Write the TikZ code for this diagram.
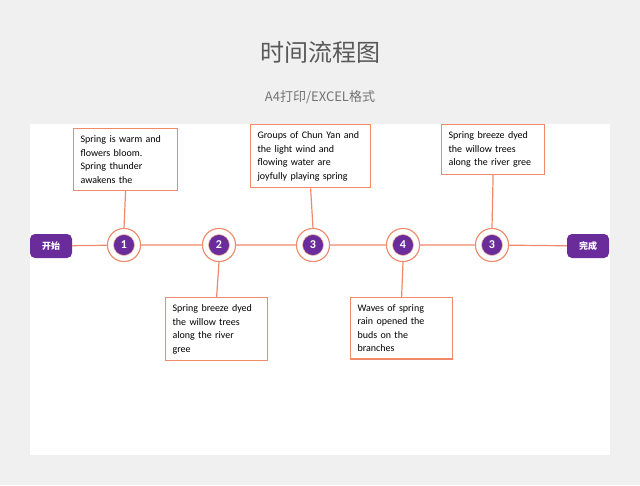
\documentclass[tikz,border=0pt]{standalone}
\usepackage{fontspec}
\setmainfont{Carlito}
\newfontfamily\cjk{Noto Sans CJK SC}
\definecolor{sal}{HTML}{F08A6A}
\definecolor{pur}{HTML}{6A2C9A}
\definecolor{bgg}{HTML}{F0F0F0}
\begin{document}
\begin{tikzpicture}[x=1pt,y=-1pt,
  lnk/.style={draw=sal,line width=1.2pt},
  outer/.style={circle,draw=sal,fill=white,line width=1pt,minimum size=33pt,inner sep=0pt},
  inner/.style={circle,fill=pur,draw=sal!60,line width=0.6pt,minimum size=21pt,inner sep=0pt,text=white,font=\bfseries\large},
  pill/.style={rounded corners=5pt,fill=pur,text=white,font=\cjk\bfseries\small,minimum width=42pt,minimum height=24pt},
  tbox/.style={draw=sal,line width=1.2pt,fill=white,anchor=north west,align=left,font=\fontsize{10}{13.5}\selectfont,inner sep=7pt}]
\fill[bgg] (0,0) rectangle (640,485);
\fill[white] (30,124) rectangle (610,455);
\node (title) at (320,52) {\cjk\fontsize{24}{28}\selectfont\color{black!65}时间流程图};
\node (sub) at (320,97) {\cjk\fontsize{13}{16}\selectfont\color{black!55}A4打印/EXCEL格式};
\node[pill] (s) at (51,246) {开始};
\node[pill] (e) at (588,246) {完成};
\foreach \i/\x/\t in {1/124/1,2/219/2,3/313/3,4/403/4,5/492/3}{
  \node[outer] (o\i) at (\x,245) {};
}
\draw[lnk] (s) -- (o1) -- (o2) -- (o3) -- (o4) -- (o5) -- (e);
\node[tbox,text width=90pt] (b1) at (73,128) {Spring is warm and\\flowers bloom.\\Spring thunder\\awakens the\\[2pt]};
\node[tbox,text width=106pt] (b2) at (250,124) {Groups of Chun Yan and\\the light wind and\\flowing water are\\joyfully playing spring};
\node[tbox,text width=89pt] (b3) at (441,124) {Spring breeze dyed\\the willow trees\\along the river gree\\[2pt]};
\node[tbox,text width=88pt] (b4) at (165,297) {Spring breeze dyed\\the willow trees\\along the river\\gree};
\node[tbox,text width=88pt] (b5) at (350,297) {Waves of spring\\rain opened the\\buds on the\\branches};
\draw[lnk] (b1.south) -- (o1.north);
\draw[lnk] (b2.south) -- (o3.north);
\draw[lnk] (b3.south) -- (o5.north);
\draw[lnk] (b4.north) -- (o2.south);
\draw[lnk] (b5.north) -- (o4.south);
\foreach \i/\t in {1/1,2/2,3/3,4/4,5/3}{
  \node[outer] at (o\i) {};
  \node[inner] (n\i) at (o\i) {\t};
}
\end{tikzpicture}
\end{document}
